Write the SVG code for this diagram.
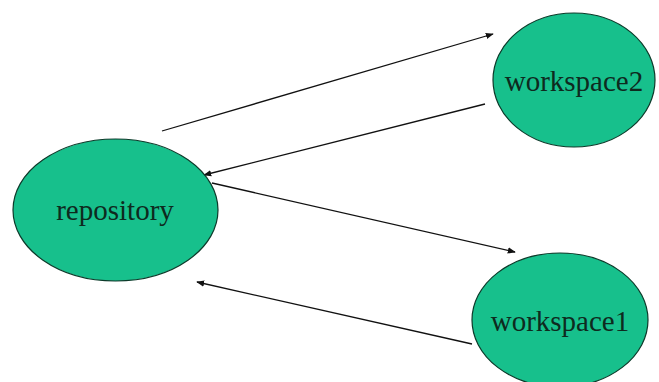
<svg xmlns="http://www.w3.org/2000/svg" width="659" height="382" viewBox="0 0 659 382">
<style>
.node{fill:#17c08c;stroke:#0d3a2a;stroke-width:1.2}
.lbl{font-family:"Liberation Serif","Times New Roman",serif;font-size:29px;fill:#0e2a1e;text-anchor:middle}
.edge{stroke:#111;stroke-width:1.3;fill:none;marker-end:url(#ah)}
</style>
<defs>
<marker id="ah" viewBox="0 0 10 10" refX="9" refY="5" markerWidth="8" markerHeight="8" markerUnits="userSpaceOnUse" orient="auto">
<path d="M0,1 L10,5 L0,9 Z" fill="#111"/>
</marker>
</defs>
<rect width="659" height="382" fill="#fff"/>
<g id="connectors">
<line class="edge" x1="162" y1="131" x2="493" y2="34"/>
<line class="edge" x1="485" y1="104" x2="204" y2="175"/>
<line class="edge" x1="212" y1="183" x2="515" y2="252"/>
<line class="edge" x1="472" y1="344" x2="197" y2="282"/>
</g>
<g id="repository">
<ellipse class="node" cx="115.5" cy="210" rx="102.5" ry="71"/>
<text class="lbl" x="115" y="220">repository</text>
</g>
<g id="workspace2">
<ellipse class="node" cx="574" cy="80" rx="81" ry="67"/>
<text class="lbl" x="574" y="91">workspace2</text>
</g>
<g id="workspace1">
<ellipse class="node" cx="560" cy="320" rx="88" ry="67"/>
<text class="lbl" x="560" y="331">workspace1</text>
</g>
</svg>
